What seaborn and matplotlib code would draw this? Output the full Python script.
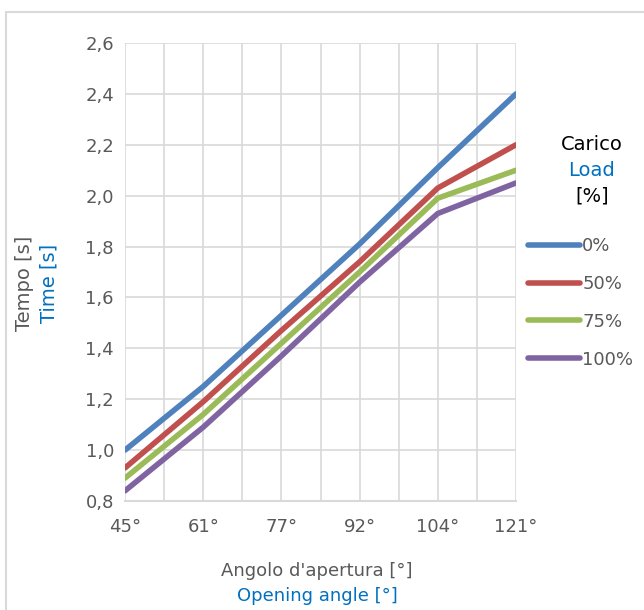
import numpy as np
import pandas as pd
import matplotlib.pyplot as plt
import matplotlib.patches as mpatches
from matplotlib.ticker import MultipleLocator, FuncFormatter
import seaborn as sns

# data
angles = ['45°', '61°', '77°', '92°', '104°', '121°']
loads = ['0%', '50%', '75%', '100%']
time_0 = [1.00, 1.25, 1.53, 1.81, 2.11, 2.40]
time_50 = [0.93, 1.19, 1.47, 1.74, 2.03, 2.20]
time_75 = [0.89, 1.14, 1.42, 1.70, 1.99, 2.10]
time_100 = [0.84, 1.09, 1.37, 1.66, 1.93, 2.05]
colors = ['#4F81BD', '#C0504D', '#9BBB59', '#8064A2']

sns.set_theme(style='white')
plt.rcParams['font.family'] = ['DejaVu Sans']

gray = '#595959'
blue_txt = '#0070C0'
fs = 13

df = pd.DataFrame({'pos': np.arange(len(angles)),
                   '0%': time_0, '50%': time_50, '75%': time_75, '100%': time_100})
long = df.melt(id_vars='pos', var_name='Carico', value_name='Tempo')

fig = plt.figure(figsize=(6.44, 6.10), dpi=100)
ax = fig.add_axes([125 / 644, 1 - 501 / 610, (516 - 125) / 644, (501 - 43) / 610])

sns.lineplot(data=long, x='pos', y='Tempo', hue='Carico', hue_order=loads,
             palette=colors, linewidth=4, ax=ax, legend=False,
             solid_capstyle='round')

ax.set_xlim(0, len(angles) - 1)
ax.set_ylim(0.8, 2.6)
ax.xaxis.set_minor_locator(MultipleLocator(0.5))
ax.set_xticks(range(len(angles)))
ax.set_xticklabels(angles)
ax.yaxis.set_major_locator(MultipleLocator(0.2))
ax.yaxis.set_major_formatter(FuncFormatter(lambda v, p: f'{v:.1f}'.replace('.', ',')))
ax.grid(True, which='both', color='#D9D9D9', linewidth=1.2)
ax.set_axisbelow(True)
ax.tick_params(axis='both', which='both', length=0, colors=gray, labelsize=fs)
ax.tick_params(axis='x', pad=12)
ax.tick_params(axis='y', pad=8)
for s in ['top', 'right', 'left']:
    ax.spines[s].set_visible(False)
ax.spines['bottom'].set_color('#D9D9D9')
ax.spines['bottom'].set_linewidth(1.5)
ax.set_xlabel('')
ax.set_ylabel('')

# axis titles, Italian in gray, English in blue
fig.text(317 / 644, 1 - 571 / 610, "Angolo d'apertura [°]", color=gray, fontsize=fs,
         ha='center', va='center')
fig.text(317 / 644, 1 - 596 / 610, 'Opening angle [°]', color=blue_txt, fontsize=fs,
         ha='center', va='center')
fig.text(24 / 644, 1 - 283 / 610, 'Tempo [s]', color=gray, fontsize=14,
         ha='center', va='center', rotation=90)
fig.text(49 / 644, 1 - 283 / 610, 'Time [s]', color=blue_txt, fontsize=14,
         ha='center', va='center', rotation=90)

# legend title
fig.text(592 / 644, 1 - 145 / 610, 'Carico', color='black', fontsize=14, ha='center', va='center')
fig.text(592 / 644, 1 - 170 / 610, 'Load', color=blue_txt, fontsize=14, ha='center', va='center')
fig.text(592 / 644, 1 - 196 / 610, '[%]', color='black', fontsize=14, ha='center', va='center')

handles = [plt.Line2D([], [], color=c, linewidth=4, solid_capstyle='round') for c in colors]
fig.legend(handles, loads, loc='upper left', bbox_to_anchor=(528 / 644, 1 - 237 / 610),
           frameon=False, fontsize=fs, labelcolor=gray, handlelength=2.9,
           handletextpad=0.1, labelspacing=1.1, borderpad=0, borderaxespad=0)

# outer chart border (cropped on right and bottom)
fig.patches.append(mpatches.Rectangle((6 / 644, -0.05), 1.1, 1 - 12 / 610 + 0.05,
                                      transform=fig.transFigure, fill=False,
                                      edgecolor='#D9D9D9', linewidth=1.5))

fig.savefig('out.png', dpi=100)
